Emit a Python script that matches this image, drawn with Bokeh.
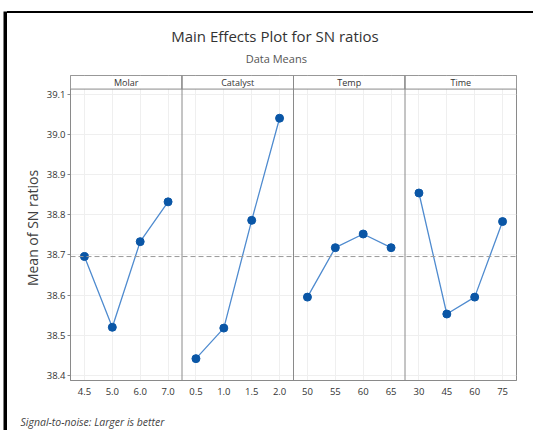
import numpy as np
from bokeh.plotting import figure
from bokeh.layouts import column, row
from bokeh.models import Range1d, FixedTicker, Span
from bokeh.core.properties import value
from bokeh.embed import file_html
from bokeh.resources import INLINE

# ---- data ----
factors = ["Molar", "Catalyst", "Temp", "Time"]
levels = [
    ["4.5", "5.0", "6.0", "7.0"],
    ["0.5", "1.0", "1.5", "2.0"],
    ["50", "55", "60", "65"],
    ["30", "45", "60", "75"],
]
molar_sn = [38.696, 38.520, 38.733, 38.832]
catalyst_sn = [38.442, 38.518, 38.786, 39.040]
temp_sn = [38.595, 38.718, 38.752, 38.718]
time_sn = [38.854, 38.553, 38.595, 38.783]
series = [molar_sn, catalyst_sn, temp_sn, time_sn]
y_ticks = [38.4, 38.5, 38.6, 38.7, 38.8, 38.9, 39.0, 39.1]

title_text = "Main Effects Plot for SN ratios"
subtitle_text = "Data Means"
footer_text = "Signal-to-noise: Larger is better"
ylabel_text = "Mean of SN ratios"

grand_mean = float(np.mean(np.concatenate([np.array(s) for s in series])))

FONT = "Open Sans"
GRID = "#efefef"
FRAME = "#8a8a8a"
LINE_C = "#4f8bcf"
PT_C = "#0a56a6"

W, H = 533, 430
BAR_W = 7
CW = W - BAR_W            # width of the right-hand column
GAP_H, LINE_H = 11, 2     # white space and black border line at the top
y0 = GAP_H + LINE_H
TOP_H, MAIN_H = 75 - y0, 335
BOT_H = H - 75 - MAIN_H


def blank(width, height):
    f = figure(width=width, height=height, output_backend="svg", toolbar_location=None,
               x_range=Range1d(0, width), y_range=Range1d(0, height),
               x_axis_type=None, y_axis_type=None,
               min_border=0, outline_line_color=None,
               background_fill_color="white", border_fill_color="white")
    f.grid.visible = False
    return f


# ---- left strip: black screenshot border ----
bar = blank(BAR_W, H)
bar.quad(left=[3], right=[BAR_W], top=[H - GAP_H], bottom=[0], fill_color="black",
         line_color=None)

# ---- top area: title, subtitle (y measured upward) ----
top = blank(CW, TOP_H)
top.text(x=[274.5 - BAR_W], y=[TOP_H - (35 - y0)], text=[title_text], text_align="center",
         text_baseline="middle", text_font=value(FONT), text_font_size="15px",
         text_color="#333333")
top.text(x=[275.8 - BAR_W], y=[TOP_H - (57.5 - y0)], text=[subtitle_text],
         text_align="center", text_baseline="middle", text_font=value(FONT),
         text_font_size="11px", text_color="#555555")

# ---- main plot ----
n_lv = 4
n_f = len(factors)
y_lo, y_plot_top, y_hi = 38.3876, 39.1125, 39.1463

p = figure(width=CW, height=MAIN_H, output_backend="svg", toolbar_location=None,
           x_range=Range1d(0, n_f * n_lv), y_range=Range1d(y_lo, y_hi),
           min_border_left=70 - BAR_W, min_border_right=W - 516, min_border_top=0,
           min_border_bottom=MAIN_H - 305, background_fill_color="white",
           border_fill_color="white", outline_line_color=FRAME, outline_line_width=1)

tick_pos = [f * n_lv + j + 0.5 for f in range(n_f) for j in range(n_lv)]
tick_lab = [levels[f][j] for f in range(n_f) for j in range(n_lv)]
p.xaxis.ticker = FixedTicker(ticks=tick_pos)
p.xaxis.major_label_overrides = {t: l for t, l in zip(tick_pos, tick_lab)}
p.xaxis.minor_tick_line_color = None
p.xaxis.major_tick_out = 0
p.xaxis.major_tick_in = 0
p.xaxis.major_label_standoff = 7
p.yaxis.ticker = FixedTicker(ticks=y_ticks)
p.yaxis.major_label_overrides = {t: f"{t:.1f}" for t in y_ticks}
p.yaxis.minor_tick_line_color = None
p.yaxis.major_tick_out = 3
p.yaxis.major_tick_in = 0
p.yaxis.major_label_standoff = 2
p.yaxis.bounds = (y_lo, y_plot_top)
p.yaxis.axis_label = ylabel_text
p.yaxis.axis_label_text_font = FONT
p.yaxis.axis_label_text_font_size = "14px"
p.yaxis.axis_label_text_font_style = "normal"
p.yaxis.axis_label_text_color = "#404040"
p.yaxis.axis_label_standoff = 2
for ax in (p.xaxis, p.yaxis):
    ax.axis_line_color = FRAME
    ax.major_tick_line_color = FRAME
    ax.major_label_text_font = FONT
    ax.major_label_text_font_size = "9.5px"
    ax.major_label_text_color = "#333333"

p.xgrid.grid_line_color = GRID
p.ygrid.grid_line_color = GRID

p.add_layout(Span(location=grand_mean, dimension="width", line_color="#9a9a9a",
                  line_dash="5 3", line_width=1))

for f, vals in enumerate(series):
    xs = [f * n_lv + j + 0.5 for j in range(n_lv)]
    p.line(xs, vals, line_color=LINE_C, line_width=1.3)
    p.scatter(xs, vals, size=8, fill_color=PT_C, line_color=PT_C)

# header strips
p.quad(left=[f * n_lv for f in range(n_f)], right=[(f + 1) * n_lv for f in range(n_f)],
       bottom=[y_plot_top] * n_f, top=[y_hi] * n_f,
       fill_color="white", line_color=FRAME, line_width=1)
p.text(x=[f * n_lv + n_lv / 2 for f in range(n_f)], y=[(y_plot_top + y_hi) / 2] * n_f,
       text=factors, text_align="center", text_baseline="middle",
       text_font=value(FONT), text_font_size="9px", text_color="#333333")

for f in range(1, n_f):
    p.add_layout(Span(location=f * n_lv, dimension="height", line_color=FRAME, line_width=1))

# ---- bottom area: footnote ----
bot = blank(CW, BOT_H)
bot.text(x=[20 - BAR_W], y=[H - 421.7], text=[footer_text], text_align="left",
         text_baseline="middle", text_font=value(FONT), text_font_size="10.5px",
         text_font_style="italic", text_color="#444444")

right_col = column(top, row(p), bot,
                   styles={"margin-top": f"{GAP_H}px",
                           "border-top": f"{LINE_H}px solid black"})
layout = row(bar, right_col)
open("out.html", "w").write(file_html(layout, INLINE))
